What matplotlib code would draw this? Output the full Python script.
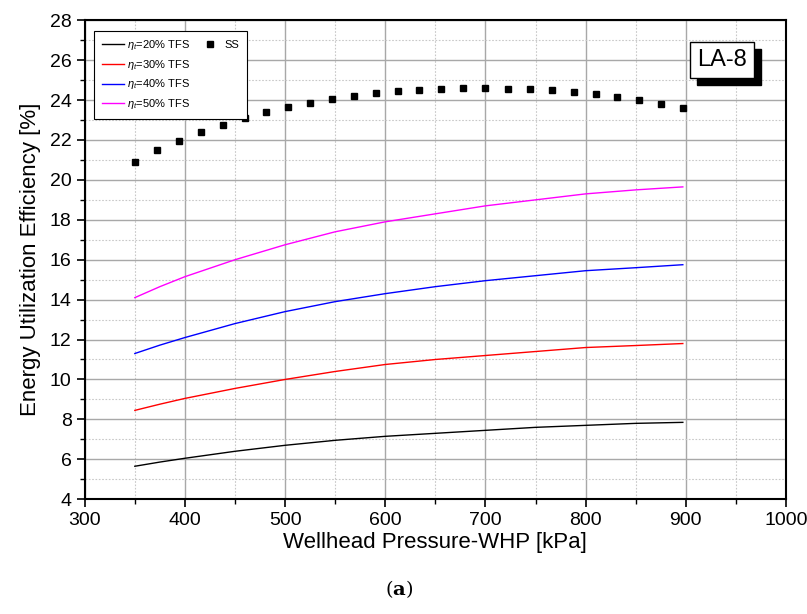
import numpy as np
import matplotlib
matplotlib.use("Agg")
import matplotlib.pyplot as plt
from matplotlib.ticker import MultipleLocator
from matplotlib.patches import Rectangle
from matplotlib.lines import Line2D

plt.rcParams['font.family'] = ['Liberation Sans', 'DejaVu Sans']
plt.rcParams['mathtext.fontset'] = 'custom'
plt.rcParams['mathtext.it'] = 'Liberation Sans:italic'
plt.rcParams['mathtext.rm'] = 'Liberation Sans'

# wellhead pressure [kPa]
whp_lines = [350, 375, 400, 450, 500, 550, 600, 650, 700, 750, 800, 850, 897]
eff_20 = [5.65, 5.86, 6.05, 6.4, 6.7, 6.95, 7.15, 7.3, 7.45, 7.6, 7.7, 7.8, 7.85]
eff_30 = [8.45, 8.76, 9.05, 9.55, 10.0, 10.4, 10.75, 11.0, 11.2, 11.4, 11.6, 11.7, 11.8]
eff_40 = [11.3, 11.72, 12.1, 12.8, 13.4, 13.9, 14.3, 14.65, 14.95, 15.2, 15.45, 15.6, 15.75]
eff_50 = [14.1, 14.65, 15.15, 16.0, 16.75, 17.4, 17.9, 18.3, 18.7, 19.0, 19.3, 19.5, 19.65]

whp_ss = [350, 372, 394, 416, 438, 460, 481, 503, 525, 547, 569, 591, 613,
          634, 656, 678, 700, 722, 744, 766, 788, 810, 831, 853, 875, 897]
eff_ss = [20.9, 21.5, 21.95, 22.4, 22.75, 23.1, 23.4, 23.65, 23.85, 24.05, 24.2, 24.35, 24.45,
          24.5, 24.55, 24.6, 24.6, 24.55, 24.55, 24.5, 24.4, 24.3, 24.15, 24.0, 23.8, 23.6]

fig = plt.figure(figsize=(8.07, 6.14), dpi=100)
ax = fig.add_axes([0.105, 0.187, 0.869, 0.780])

l1, = ax.plot(whp_lines, eff_20, color='black', lw=1)
l2, = ax.plot(whp_lines, eff_30, color='red', lw=1)
l3, = ax.plot(whp_lines, eff_40, color='blue', lw=1)
l4, = ax.plot(whp_lines, eff_50, color='magenta', lw=1)
ss, = ax.plot(whp_ss, eff_ss, 's', color='black', ms=5, ls='none')

ax.set_xlim(300, 1000)
ax.set_ylim(4, 28)
ax.xaxis.set_major_locator(MultipleLocator(100))
ax.xaxis.set_minor_locator(MultipleLocator(50))
ax.yaxis.set_major_locator(MultipleLocator(2))
ax.yaxis.set_minor_locator(MultipleLocator(1))
ax.grid(which='major', color='#a8a8a8', lw=1, ls='-')
ax.grid(which='minor', color='#c8c8c8', lw=0.8, ls=(0, (1.5, 1.5)))
ax.set_axisbelow(True)
ax.tick_params(which='major', direction='out', length=6, width=1.2, labelsize=14)
ax.tick_params(which='minor', direction='out', length=3.5, width=1.0)
for s in ax.spines.values():
    s.set_linewidth(1.5)

ax.set_xlabel('Wellhead Pressure-WHP [kPa]', fontsize=16, labelpad=2)
ax.set_ylabel('Energy Utilization Efficiency [%]', fontsize=16, labelpad=6)

labels = [r'$\eta_t$=$20\%$ TFS', r'$\eta_t$=$30\%$ TFS',
          r'$\eta_t$=$40\%$ TFS', r'$\eta_t$=$50\%$ TFS']
blank = Line2D([], [], ls='none')
leg = ax.legend([l1, l2, l3, l4, ss, blank, blank, blank], labels + ['SS', '', '', ''],
                ncol=2, loc='upper left', bbox_to_anchor=(0.005, 0.99), fontsize=8,
                frameon=True, fancybox=False, edgecolor='black', framealpha=1,
                handlelength=2.0, handletextpad=0.3, columnspacing=0.8,
                borderpad=0.7, labelspacing=0.5)
leg.get_frame().set_linewidth(0.8)

# LA-8 label with drop shadow
la = ax.text(0.909, 0.917, 'LA-8', transform=ax.transAxes, fontsize=17, ha='center',
             va='center', bbox=dict(boxstyle='square,pad=0.3', fc='white', ec='black', lw=1),
             zorder=6)
fig.canvas.draw()
bb = la.get_bbox_patch().get_window_extent()
shadow = Rectangle((bb.x0 + 7, bb.y0 - 7), bb.width, bb.height, transform=None,
                   fc='black', ec='black', zorder=5)
ax.add_artist(shadow)

fig.text(0.495, 0.04, r'($\mathbf{a}$)', fontsize=14, ha='center', va='center',
         family='DejaVu Serif', math_fontfamily='dejavuserif')

fig.savefig('out.png', dpi=100)
